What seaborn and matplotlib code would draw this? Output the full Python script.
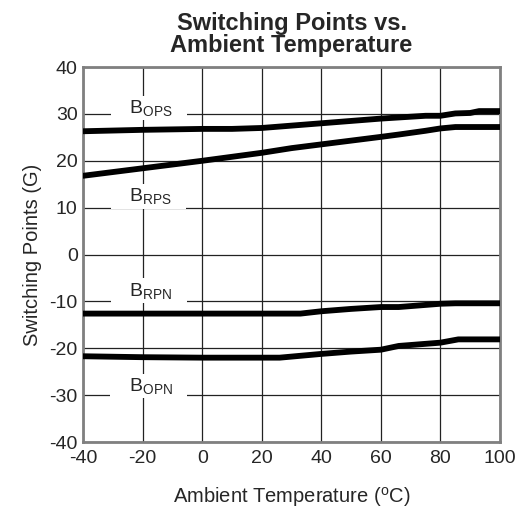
import numpy as np
import pandas as pd
import seaborn as sns
import matplotlib
matplotlib.use("Agg")
import matplotlib.pyplot as plt

# values (temperature in degC, field in gauss)
temp_ops = [-40, -20, 0, 10, 20, 30, 40, 50, 60, 70, 75, 80, 85, 90, 93, 100]
b_ops = [26.3, 26.6, 26.8, 26.8, 27.0, 27.5, 28.0, 28.5, 29.0, 29.4, 29.6, 29.6, 30.1, 30.2, 30.6, 30.6]

temp_rps = [-40, -20, 0, 20, 30, 40, 50, 60, 66, 75, 80, 85, 100]
b_rps = [16.8, 18.4, 20.0, 21.7, 22.7, 23.5, 24.3, 25.1, 25.6, 26.4, 26.9, 27.2, 27.2]

temp_rpn = [-40, 0, 20, 33, 40, 50, 60, 66, 80, 85, 100]
b_rpn = [-12.6, -12.6, -12.6, -12.6, -12.1, -11.6, -11.2, -11.2, -10.5, -10.4, -10.4]

temp_opn = [-40, -20, 0, 26, 40, 50, 60, 66, 80, 86, 100]
b_opn = [-21.7, -21.9, -22.0, -22.0, -21.2, -20.7, -20.3, -19.5, -18.8, -18.1, -18.1]

labels = ["OPS", "RPS", "RPN", "OPN"]
label_y = [31.2, 12.4, -7.7, -28.0]

sns.set_style("white")
plt.rcParams['font.family'] = ['Liberation Sans', 'DejaVu Sans']
plt.rcParams['mathtext.default'] = 'regular'
plt.rcParams['axes.unicode_minus'] = False

df = pd.concat([
    pd.DataFrame({"temp": temp_ops, "b": b_ops, "curve": "OPS"}),
    pd.DataFrame({"temp": temp_rps, "b": b_rps, "curve": "RPS"}),
    pd.DataFrame({"temp": temp_rpn, "b": b_rpn, "curve": "RPN"}),
    pd.DataFrame({"temp": temp_opn, "b": b_opn, "curve": "OPN"}),
])

fig = plt.figure(figsize=(5.2, 5.14), dpi=100)
ax = fig.add_axes([0.16, 0.14, 0.8015, 0.7296])

ax.set_xticks(np.arange(-40, 101, 20))
ax.set_yticks(np.arange(-40, 41, 10))
ax.grid(True, color="#222222", linewidth=0.9, zorder=0)
ax.set_axisbelow(True)

for name in labels:
    sns.lineplot(data=df[df["curve"] == name], x="temp", y="b", color="black",
                 linewidth=4.2, ax=ax, legend=False, zorder=5,
                 solid_capstyle="round", solid_joinstyle="round", estimator=None, sort=False)

for name, yv in zip(labels, label_y):
    ax.text(-18, yv, "   B$_{" + name + "}$   ", fontsize=14, ha="center", va="center",
            bbox=dict(facecolor="white", edgecolor="none", pad=1.5), zorder=3)

ax.set_xlim(-40, 100)
ax.set_ylim(-40, 40)
ax.tick_params(length=0, labelsize=14)
ax.tick_params(axis="x", pad=6)
ax.tick_params(axis="y", pad=4)
for s in ax.spines.values():
    s.set_color("#808080")
    s.set_linewidth(2)

ax.set_xlabel("Ambient Temperature ($^{o}$C)", fontsize=14.5, labelpad=13)
ax.set_ylabel("Switching Points (G)", fontsize=14.5, labelpad=5)
ax.set_title("Switching Points vs.\nAmbient Temperature", fontsize=17,
             fontweight="bold", pad=11, linespacing=0.95)

fig.savefig("out.png", dpi=100)
